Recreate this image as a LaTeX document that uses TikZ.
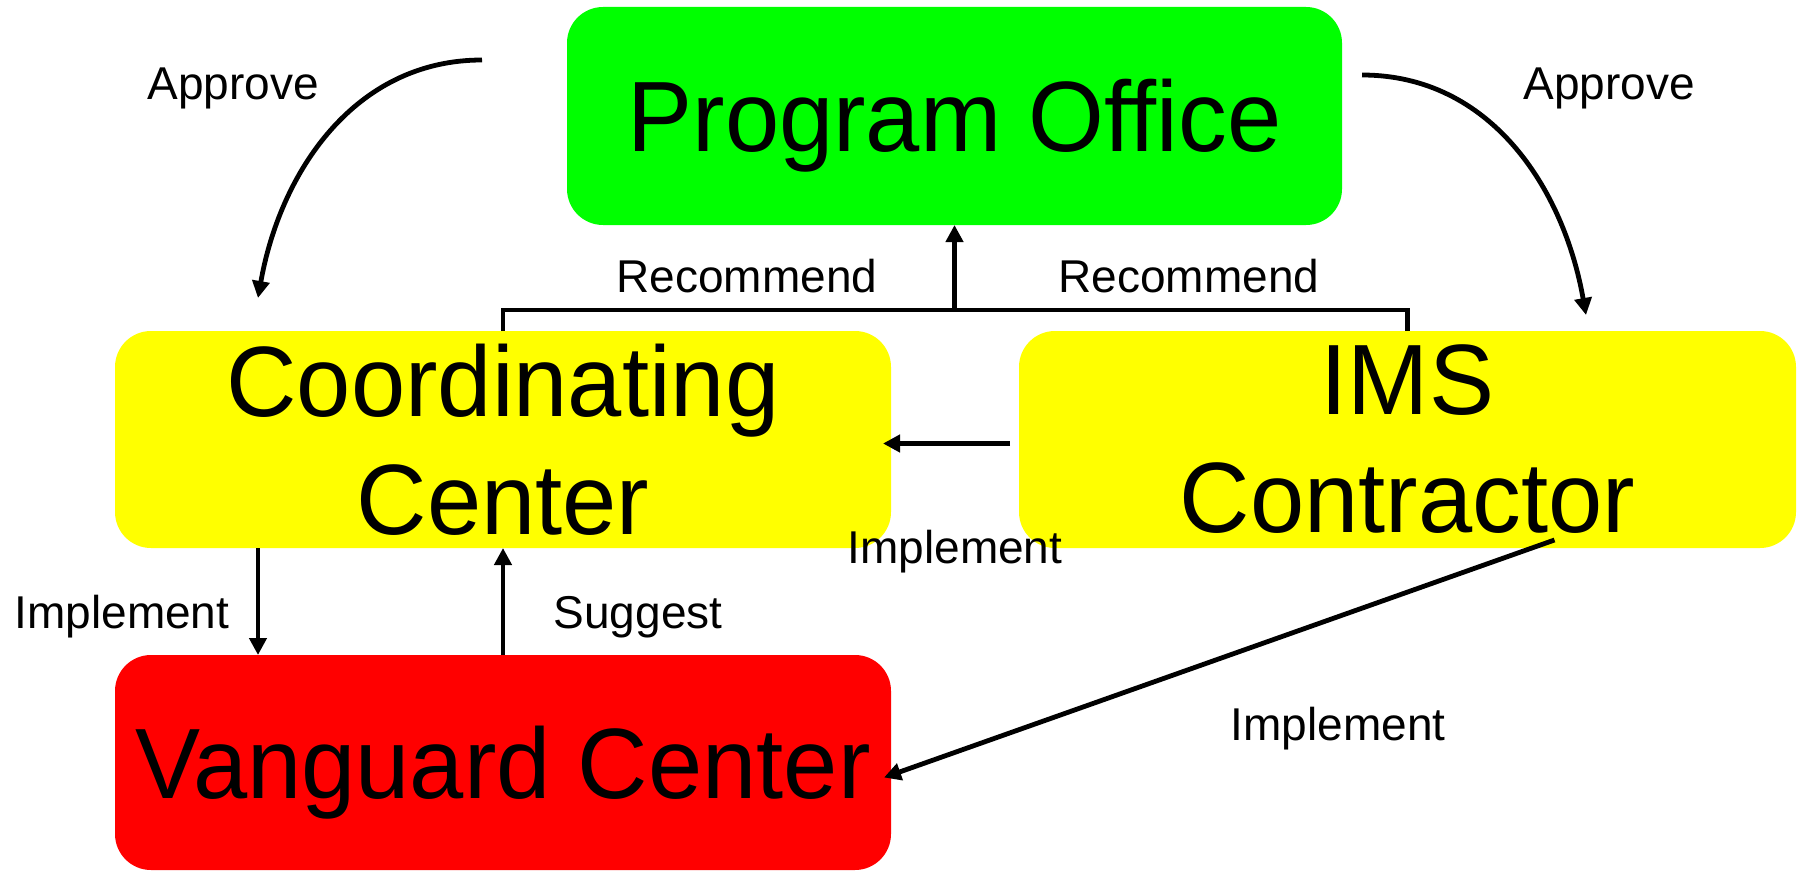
\documentclass[tikz,border=0pt]{standalone}
\usepackage{fontspec}
\setmainfont{Liberation Sans}
\newfontfamily\boxfont{Liberation Sans}[FakeStretch=0.975]
\usetikzlibrary{arrows.meta,calc}
\definecolor{pgreen}{RGB}{0,255,0}
\definecolor{pyellow}{RGB}{255,255,0}
\definecolor{pred}{RGB}{255,0,0}
\begin{document}
\begin{tikzpicture}[x=0.5pt,y=-0.5pt,
  box/.style={rectangle,rounded corners=18pt,inner sep=0pt,outer sep=0pt,align=center,
    font=\boxfont\fontsize{50}{59}\selectfont},
  lbl/.style={anchor=base,inner sep=0pt,font=\fontsize{23}{27}\selectfont},
  conn/.style={line width=2.4pt,-{Triangle[length=8.5pt,width=8.5pt]}},
  plain/.style={line width=2.4pt,line join=miter},
]
\useasboundingbox (0,0) rectangle (1800,872);

% boxes
\node[box,fill=pgreen,minimum width=387.5pt,minimum height=109pt,text height=35.8pt,text depth=0pt]
  (po) at (954.5,116) {Program Office};
\node[box,fill=pyellow,minimum width=388pt,minimum height=108.5pt]
  (cc) at (503,439.5) {Coordinating\\Center};
\node[box,fill=pyellow,minimum width=388.5pt,minimum height=108.5pt]
  (ims) at (1407.5,439.5) {IMS\\Contractor};
\node[box,fill=pred,minimum width=388pt,minimum height=107.5pt,text height=35.8pt,text depth=0pt]
  (vc) at (503,762.5) {Vanguard Center};

% labels
\node[lbl] (lApL) at (233,100) {Approve};
\node[lbl] (lApR) at (1609,100) {Approve};
\node[lbl] (lReL) at (747,292) {Recommend};
\node[lbl] (lReR) at (1189,292) {Recommend};
\node[lbl] (lImL) at (122,628) {Implement};
\node[lbl] (lSug) at (638,628) {Suggest};
\node[lbl] (lImM) at (955,563) {Implement};
\node[lbl] (lImB) at (1338,740) {Implement};

% recommend bracket
\coordinate (j) at (954.5,310);
\draw[plain] (cc.north) |- (j) -| (ims.north);
\draw[conn] (j) -- (po.south);

% approve curves
\coordinate (a1s) at (482,60);
\coordinate (a1e) at (258,298);
\coordinate (a2s) at (1362,75);
\coordinate (a2e) at (1586,315);
\draw[conn] (a1s) to[out=180,in=80] (a1e);
\draw[conn] (a2s) to[out=0,in=100] (a2e);

% implement / suggest verticals
\draw[conn] ($(cc.south)+(-245,0)$) -- ($(vc.north)+(-245,0)$);
\draw[conn] (vc.north) -- (cc.south);

% IMS -> Coordinating
\draw[conn] ($(ims.west)+(-9,4)$) -- ($(cc.east)+(-8,4)$);

% IMS -> Vanguard
\draw[conn] ($(ims.south)+(147,-8)$) -- ($(vc.east)+(-7,15)$);
\end{tikzpicture}
\end{document}
